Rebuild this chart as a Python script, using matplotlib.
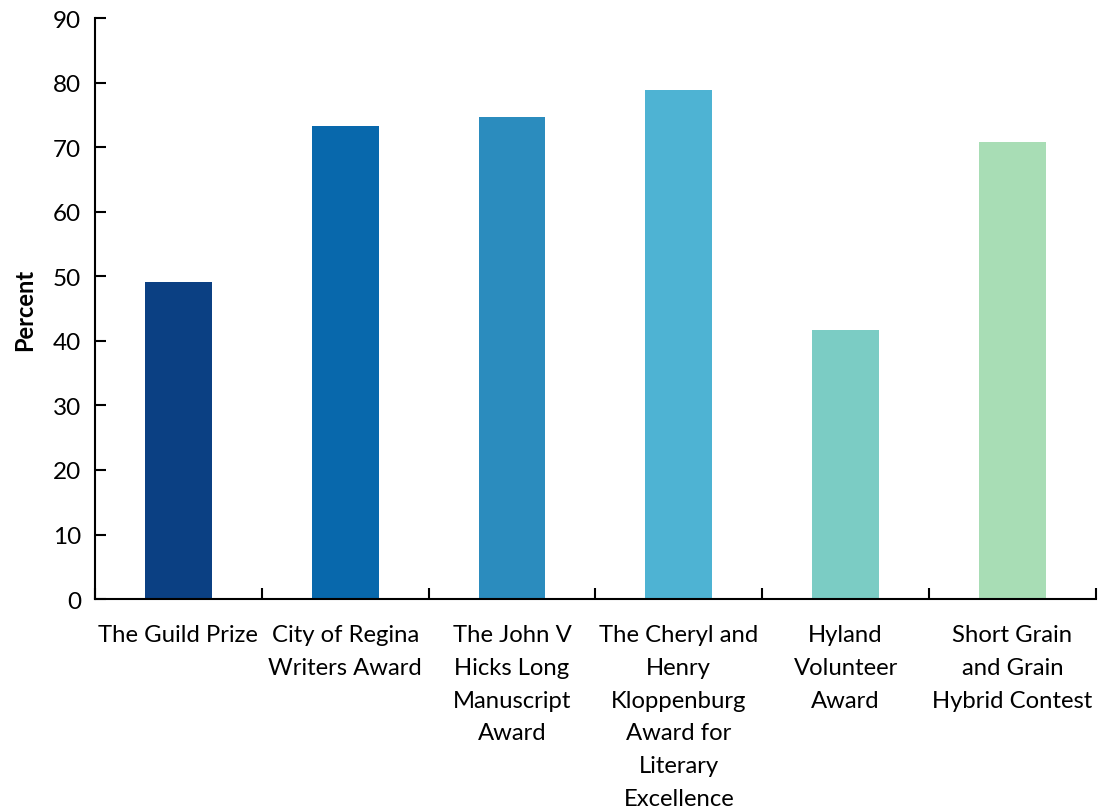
import numpy as np
import matplotlib.pyplot as plt

plt.rcParams['font.family'] = ['Lato', 'DejaVu Sans']

categories = [
    "The Guild Prize",
    "City of Regina\nWriters Award",
    "The John V\nHicks Long\nManuscript\nAward",
    "The Cheryl and\nHenry\nKloppenburg\nAward for\nLiterary\nExcellence",
    "Hyland\nVolunteer\nAward",
    "Short Grain\nand Grain\nHybrid Contest",
]
percent = [49.1, 73.3, 74.7, 78.9, 41.6, 70.8]
colors = ["#0b4083", "#0868ac", "#2b8cbe", "#4eb3d3", "#7bccc4", "#a8ddb5"]

fig = plt.figure(figsize=(10.98, 8.12), dpi=100)
ax = fig.add_axes([0.0865, 0.261, 0.9115, 0.7156])

x = np.arange(len(categories))
ax.bar(x, percent, width=0.4, color=colors)

ax.set_xlim(-0.5, len(categories) - 0.5)
ax.set_ylim(0, 90)
ax.set_yticks(np.arange(0, 91, 10))

# category labels between boundary ticks, excel style
ax.set_xticks(np.arange(-0.5, len(categories), 1.0))
ax.set_xticklabels([])
ax.set_xticks(x, minor=True)
ax.set_xticklabels(categories, minor=True, fontsize=17.2, linespacing=1.69)
ax.tick_params(axis='x', which='minor', length=0, pad=18)
ax.tick_params(axis='x', which='major', direction='in', length=8, width=1.5)
ax.tick_params(axis='y', direction='in', length=8, width=1.5, labelsize=17.5, pad=10)

for side in ['top', 'right']:
    ax.spines[side].set_visible(False)
for side in ['left', 'bottom']:
    ax.spines[side].set_linewidth(1.5)

ax.set_ylabel("Percent", fontsize=17, fontweight='bold', labelpad=12)

fig.savefig("out.png", dpi=100)
